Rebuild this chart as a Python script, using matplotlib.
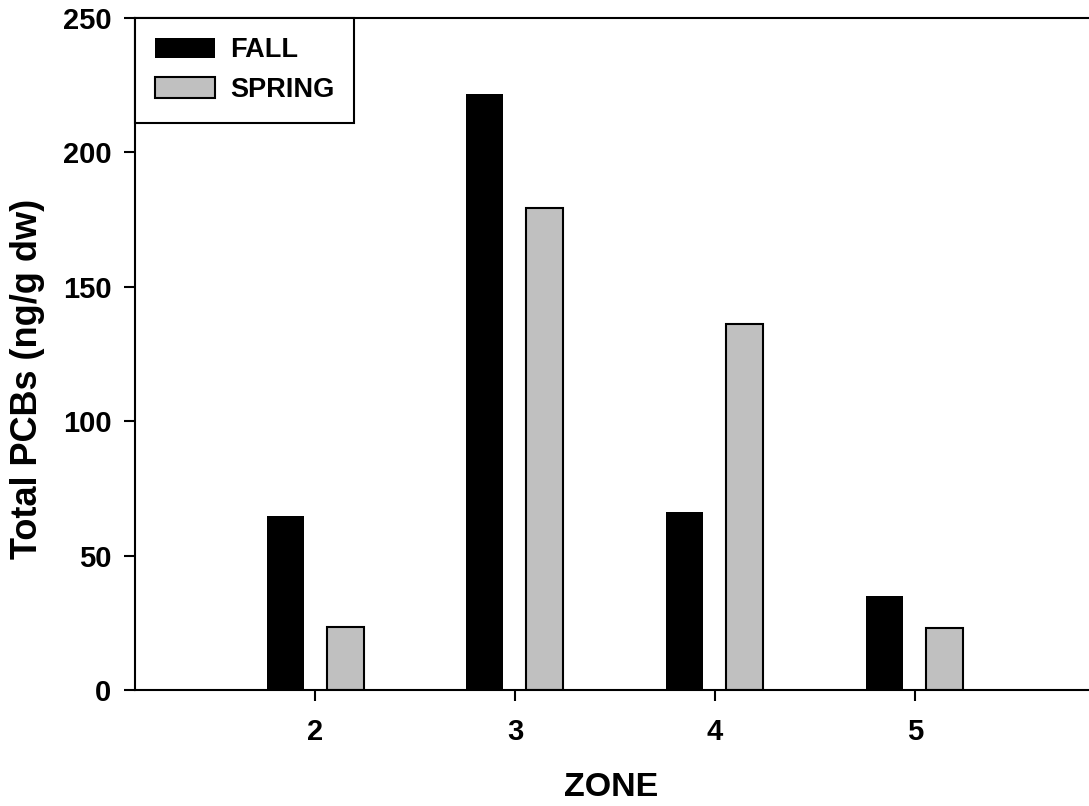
import matplotlib.pyplot as plt
import numpy as np

zones = ['2', '3', '4', '5']
fall = [64.8, 221.8, 66.3, 35.0]
spring = [23.6, 179.2, 136.1, 23.0]

plt.rcParams['font.family'] = 'Liberation Sans'
plt.rcParams['font.weight'] = 'bold'

fig = plt.figure(figsize=(10.89, 8.06), dpi=100)
ax = fig.add_axes([0.124, 0.1439, 0.875, 0.8338])

x = np.arange(2, 2 + len(zones))
w = 0.185
ax.bar(x - 0.15, fall, w, color='black', label='FALL')
ax.bar(x + 0.15, spring, w, color='#c0c0c0', edgecolor='black', linewidth=1.5, label='SPRING')

ax.set_xlim(1.1, 5.865)
ax.set_ylim(0, 250)
ax.set_xticks(x)
ax.set_xticklabels(zones)
ax.set_yticks([0, 50, 100, 150, 200, 250])

for s in ['left', 'bottom', 'top']:
    ax.spines[s].set_linewidth(1.5)
ax.spines['right'].set_visible(False)
ax.tick_params(axis='both', direction='out', length=8, width=1.5, labelsize=21)
ax.tick_params(axis='y', pad=9)
ax.tick_params(axis='x', pad=12)

ax.set_ylabel('Total PCBs (ng/g dw)', fontsize=26, fontweight='bold')
ax.yaxis.set_label_coords(-0.094, 0.4628)
ax.set_xlabel('ZONE', fontsize=24.5, fontweight='bold', va='top')
ax.xaxis.set_label_coords(0.5, -0.122)

leg = ax.legend(loc='upper left', bbox_to_anchor=(0, 1), borderaxespad=0, fancybox=False,
                edgecolor='black', fontsize=19.5, handlelength=2.25, handleheight=0.78,
                borderpad=0.72, labelspacing=0.5, handletextpad=0.55)
leg.get_frame().set_linewidth(1.5)
leg.get_frame().set_alpha(1)

fig.savefig('out.png', dpi=100)
